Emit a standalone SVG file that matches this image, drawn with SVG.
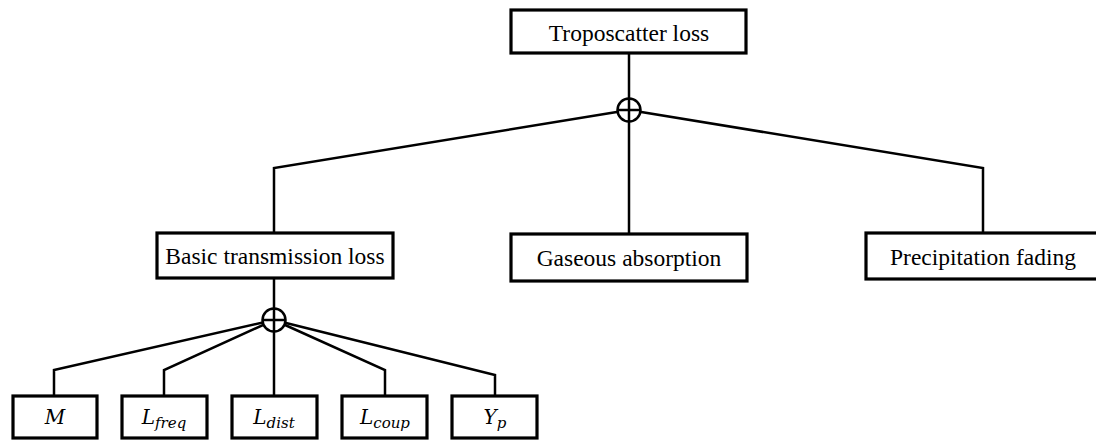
<svg xmlns="http://www.w3.org/2000/svg" width="1096" height="442" viewBox="0 0 1096 442">
<style>
.box{fill:#fff;stroke:#000;stroke-width:3.2}
.lbl{font-family:"Liberation Serif","Times New Roman",serif;font-size:23.5px;fill:#000;text-anchor:middle}
.math{font-family:"DejaVu Serif","Liberation Serif",serif;font-style:italic;font-size:20px;fill:#000;text-anchor:middle}
.sub{font-size:15px}
.con{fill:none;stroke:#000;stroke-width:2.5}
.sum{fill:#fff;stroke:#000;stroke-width:2.5}
</style>
<rect width="1096" height="442" fill="#fff"/>
<g id="connectors">
<path class="con" d="M629,53 V234"/>
<path class="con" d="M629,110 L274,168 V233"/>
<path class="con" d="M629,110 L983,168 V233"/>
<path class="con" d="M274,278 V396"/>
<path class="con" d="M274,320 L54,370 V396"/>
<path class="con" d="M274,320 L164,370 V396"/>
<path class="con" d="M274,320 L385,370 V396"/>
<path class="con" d="M274,320 L495,375 V396"/>
<circle class="sum" cx="629" cy="110" r="11.5"/>
<path class="con" d="M617.5,110 H640.5 M629,98.5 V121.5"/>
<circle class="sum" cx="274" cy="320" r="11.5"/>
<path class="con" d="M262.5,320 H285.5 M274,308.5 V331.5"/>
</g>
<g id="troposcatter">
<rect class="box" x="511" y="10" width="235" height="43"/>
<text class="lbl" x="629" y="41">Troposcatter loss</text>
</g>
<g id="basic">
<rect class="box" x="157" y="233" width="236" height="45"/>
<text class="lbl" x="275" y="264">Basic transmission loss</text>
</g>
<g id="gaseous">
<rect class="box" x="511" y="234" width="236" height="47"/>
<text class="lbl" x="629" y="266">Gaseous absorption</text>
</g>
<g id="precip">
<rect class="box" x="866" y="233" width="234" height="46"/>
<text class="lbl" x="983" y="265">Precipitation fading</text>
</g>
<g id="m">
<rect class="box" x="13" y="396" width="84" height="42"/>
<text class="math" x="55" y="424">M</text>
</g>
<g id="lfreq">
<rect class="box" x="122" y="396" width="85" height="42"/>
<text class="math" x="164" y="424">L<tspan class="sub" dy="4">freq</tspan></text>
</g>
<g id="ldist">
<rect class="box" x="232" y="396" width="85" height="42"/>
<text class="math" x="274" y="424">L<tspan class="sub" dy="4">dist</tspan></text>
</g>
<g id="lcoup">
<rect class="box" x="342" y="396" width="85" height="42"/>
<text class="math" x="385" y="424">L<tspan class="sub" dy="4">coup</tspan></text>
</g>
<g id="yp">
<rect class="box" x="452" y="396" width="85" height="42"/>
<text class="math" x="495" y="424">Y<tspan class="sub" dy="4">p</tspan></text>
</g>
</svg>
